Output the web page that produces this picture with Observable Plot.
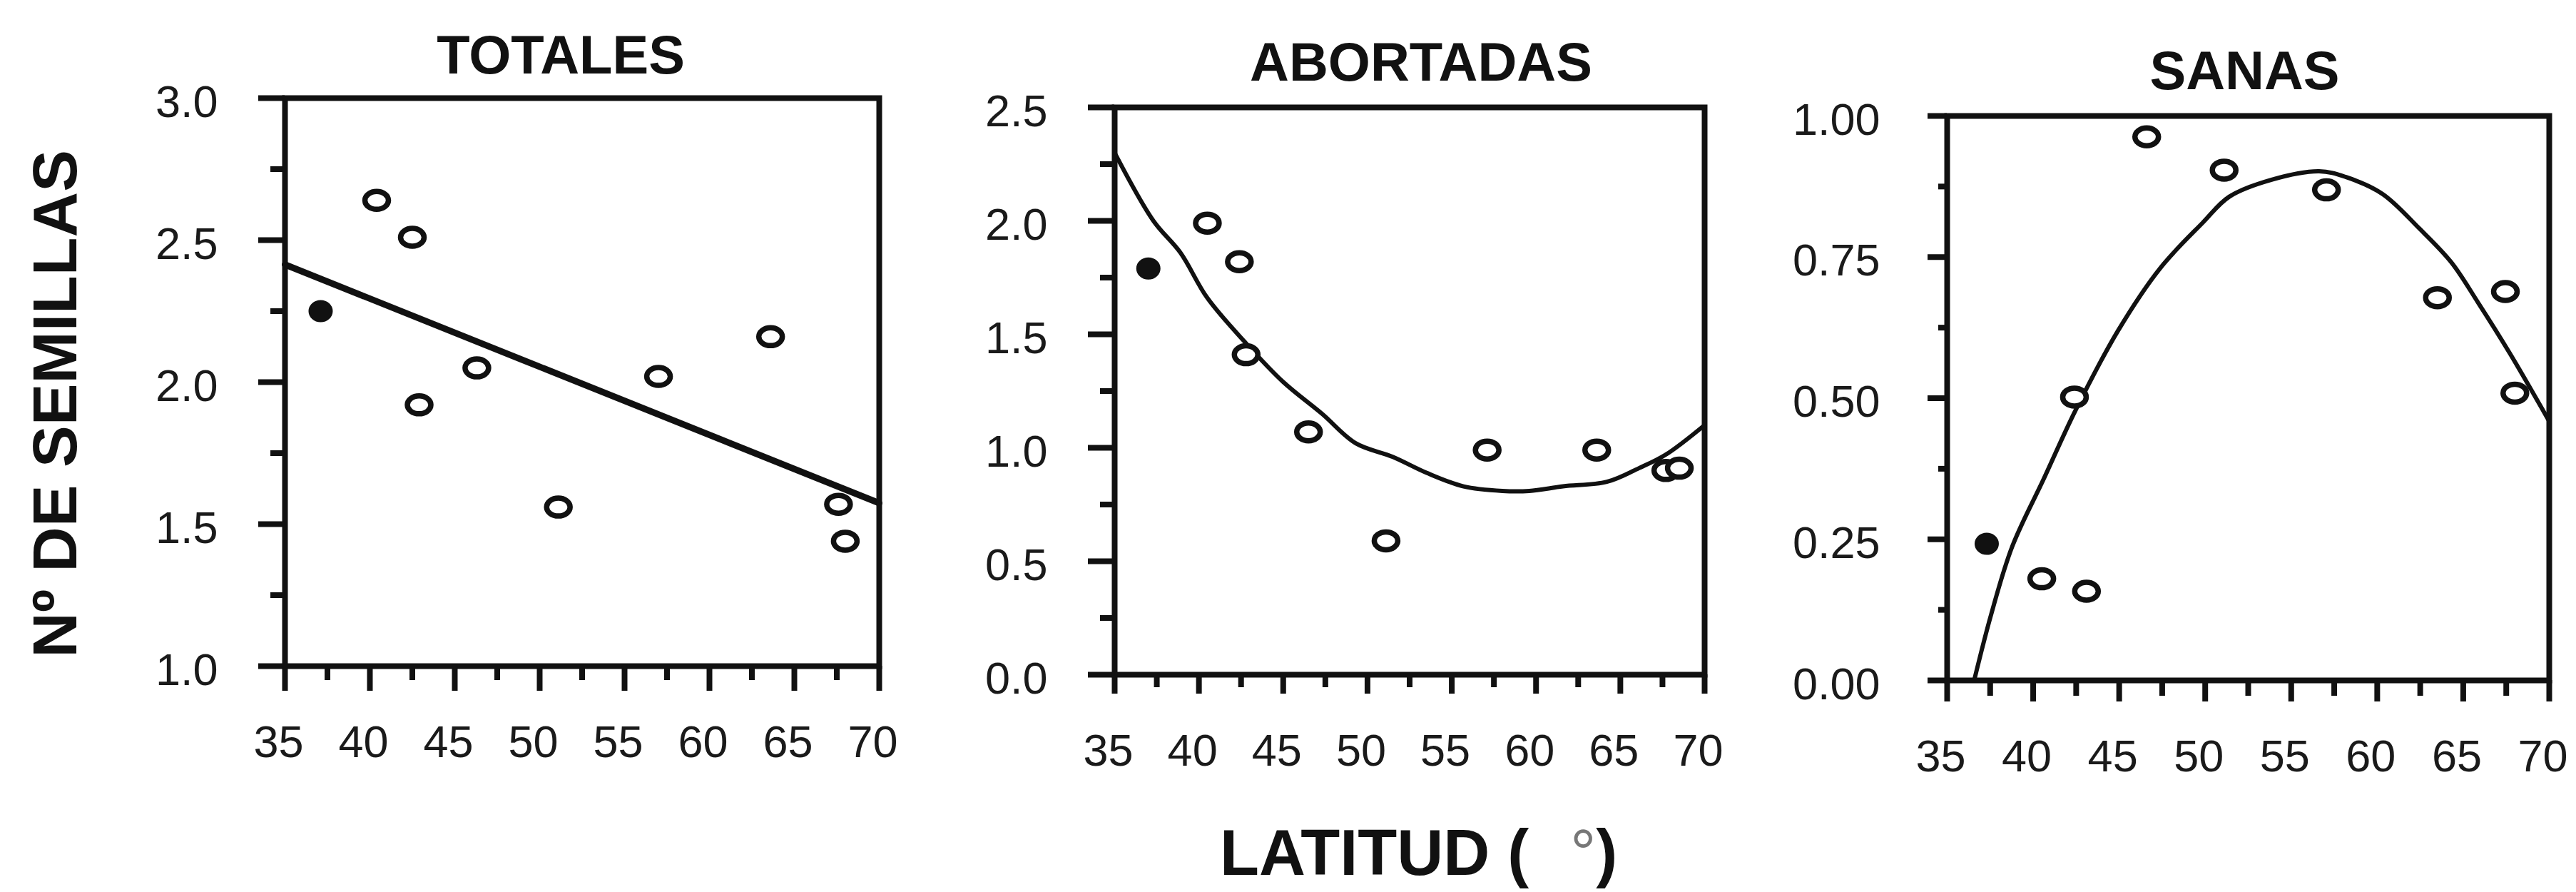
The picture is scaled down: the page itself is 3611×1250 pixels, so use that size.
<!DOCTYPE html>
<html>
<head>
<meta charset="utf-8">
<script src="https://cdn.jsdelivr.net/npm/d3@7"></script>
<script src="https://cdn.jsdelivr.net/npm/@observablehq/plot@0.6"></script>
<style>
  html, body { margin: 0; padding: 0; background: #fff; }
  #chart {
    position: relative; width: 3611px; height: 1250px; overflow: hidden; background: #fff;
    font-family: "Liberation Sans", Arial, Helvetica, sans-serif; color: #111;
  }
  #chart svg { position: absolute; top: 0; background: transparent; }
  .axis-title { position: absolute; font-weight: bold; white-space: nowrap; line-height: 1; }
  #ylabel { left: 77px; top: 566px; font-size: 88px; transform: translate(-50%, -50%) rotate(-90deg); }
  #xlabel { left: 1710px; top: 1150px; font-size: 90px; }
  #xlabel .deg { font-weight: normal; color: #777; margin-left: 58px; }
</style>
</head>
<body>
<div id="chart">
  <div class="axis-title" id="ylabel">Nº DE SEMILLAS</div>
  <div class="axis-title" id="xlabel">LATITUD (<span class="deg">°</span>)</div>
</div>
<script>
// Latitude (°) of each population; the first one (southernmost) is drawn solid.
const FILLED_SITE = 0;

// Seeds per fruit: total
const totalesLat = [37.1, 40.4, 42.5, 42.9, 46.3, 51.1, 57.0, 63.6, 67.6, 68.0];
const totalesVal = [2.25, 2.64, 2.51, 1.92, 2.05, 1.56, 2.02, 2.16, 1.57, 1.44];
const totalesFitLat = [35, 70];
const totalesFitVal = [2.414, 1.574];

// Seeds per fruit: aborted
const abortadasLat = [37.0, 40.5, 42.4, 42.8, 46.5, 51.1, 57.1, 63.6, 67.7, 68.5];
const abortadasVal = [1.79, 1.99, 1.82, 1.41, 1.07, 0.59, 0.99, 0.99, 0.90, 0.91];
const abortadasFitLat = [35, 37.3, 38.9, 40.5, 42.8, 45.0, 47.3, 49.3, 51.5, 53.5, 55.7, 58.0, 59.6, 61.6, 64.2, 66.1, 67.7, 70];
const abortadasFitVal = [2.30, 2.00, 1.86, 1.66, 1.46, 1.29, 1.15, 1.02, 0.96, 0.89, 0.83, 0.81, 0.81, 0.83, 0.85, 0.91, 0.97, 1.10];

// Seeds per fruit: healthy
const sanasLat = [37.3, 40.5, 42.4, 43.1, 46.6, 51.1, 57.05, 63.5, 67.45, 68.0];
const sanasVal = [0.242, 0.180, 0.502, 0.158, 0.963, 0.904, 0.869, 0.678, 0.689, 0.509];
const sanasFitLat = [36.57, 37.55, 38.78, 40.63, 42.47, 44.94, 47.4, 49.86, 51.4, 53.86, 56.62, 58.16, 60.3, 62.47, 64.3, 65.85, 67.7, 70];
const sanasFitVal = [0.0, 0.116, 0.237, 0.358, 0.479, 0.62, 0.731, 0.811, 0.857, 0.887, 0.902, 0.892, 0.862, 0.80, 0.741, 0.67, 0.58, 0.459];

// Axis ticks
const latMajor = [35, 40, 45, 50, 55, 60, 65, 70];
const latMinor = [37.5, 42.5, 47.5, 52.5, 57.5, 62.5, 67.5];
const totalesMajor = [1.0, 1.5, 2.0, 2.5, 3.0];
const totalesMinor = [1.25, 1.75, 2.25, 2.75];
const abortadasMajor = [0.0, 0.5, 1.0, 1.5, 2.0, 2.5];
const abortadasMinor = [0.25, 0.75, 1.25, 1.75, 2.25];
const sanasMajor = [0.0, 0.25, 0.5, 0.75, 1.0];
const sanasMinor = [0.125, 0.375, 0.625, 0.875];

const ink = "#111";

// Marker outline: an ellipse built from Bézier quarters.
function ellipse(rx, ry) {
  const k = 0.5523;
  return {
    draw(c) {
      c.moveTo(rx, 0);
      c.bezierCurveTo(rx, ry * k, rx * k, ry, 0, ry);
      c.bezierCurveTo(-rx * k, ry, -rx, ry * k, -rx, 0);
      c.bezierCurveTo(-rx, -ry * k, -rx * k, -ry, 0, -ry);
      c.bezierCurveTo(rx * k, -ry, rx, -ry * k, rx, 0);
      c.closePath();
    }
  };
}

function panel(cfg) {
  const idx = d3.range(cfg.lat.length);
  const open = idx.filter(i => i !== FILLED_SITE);
  const fmt = d3.format(cfg.fmt);
  const svg = Plot.plot({
    width: cfg.width,
    height: 1100,
    marginLeft: cfg.marginLeft,
    marginRight: cfg.marginRight,
    marginTop: cfg.marginTop,
    marginBottom: 1100 - cfg.frameBottom,
    style: { fontFamily: '"Liberation Sans", Arial, Helvetica, sans-serif', color: ink, background: "transparent" },
    x: { domain: [35, 70], axis: null, label: null },
    y: { domain: cfg.yDomain, axis: null, label: null },
    marks: [
      // fitted trend
      Plot.line({ length: cfg.fitLat.length }, {
        x: cfg.fitLat, y: cfg.fitVal, stroke: ink, strokeWidth: cfg.fitWidth,
        curve: cfg.fitCurve, strokeLinejoin: "round", strokeLinecap: "round"
      }),
      // populations
      Plot.dot(open, {
        x: i => cfg.lat[i], y: i => cfg.val[i],
        symbol: ellipse(16.5, 12.5), stroke: ink, strokeWidth: 7.5, fill: "white"
      }),
      Plot.dot([FILLED_SITE], {
        x: i => cfg.lat[i], y: i => cfg.val[i],
        symbol: ellipse(16, 14.5), fill: ink, stroke: ink, strokeWidth: 2
      }),
      Plot.frame({ stroke: ink, strokeWidth: 8 }),
      // y ticks and labels
      Plot.axisY(cfg.yMajor, { tickSize: cfg.yMajorSize, strokeWidth: 8, stroke: ink, fill: "none", label: null }),
      Plot.axisY(cfg.yMinor, { tickSize: cfg.yMinorSize, strokeWidth: 8, stroke: ink, fill: "none", label: null }),
      Plot.axisY(cfg.yMajor, {
        tickSize: 0, tickPadding: 94, dy: 6, fontSize: 63, fill: "#1a1a1a",
        tickFormat: fmt, label: null
      }),
      // x ticks and labels
      Plot.axisX(latMajor, { tickSize: cfg.xMajorSize, strokeWidth: 8, stroke: ink, fill: "none", label: null }),
      Plot.axisX(latMinor, { tickSize: cfg.xMinorSize, strokeWidth: 8, stroke: ink, fill: "none", label: null }),
      Plot.axisX(latMajor, {
        tickSize: 0, tickPadding: 83, dx: -9, fontSize: 63, fill: "#1a1a1a",
        tickFormat: d => String(d), label: null
      }),
      // panel title
      Plot.text([cfg.title], {
        text: d => d, frameAnchor: "top", lineAnchor: "bottom",
        dx: cfg.titleDx, dy: cfg.titleDy, fontSize: 76, fontWeight: "bold", fill: ink
      })
    ]
  });
  svg.style.left = cfg.left + "px";
  return svg;
}

const chart = document.getElementById("chart");

chart.appendChild(panel({
  title: "TOTALES",
  lat: totalesLat, val: totalesVal, fitLat: totalesFitLat, fitVal: totalesFitVal,
  fitWidth: 9, fitCurve: "linear",
  yDomain: [1, 3], yMajor: totalesMajor, yMinor: totalesMinor, fmt: ".1f",
  left: 0, width: 1290, marginLeft: 399, marginRight: 58, marginTop: 137, frameBottom: 933,
  yMajorSize: 37, yMinorSize: 20, xMajorSize: 35, xMinorSize: 20,
  titleDx: -30, titleDy: -35
}));

chart.appendChild(panel({
  title: "ABORTADAS",
  lat: abortadasLat, val: abortadasVal, fitLat: abortadasFitLat, fitVal: abortadasFitVal,
  fitWidth: 6, fitCurve: "catmull-rom",
  yDomain: [0, 2.5], yMajor: abortadasMajor, yMinor: abortadasMinor, fmt: ".1f",
  left: 1290, width: 1150, marginLeft: 272, marginRight: 51, marginTop: 150, frameBottom: 945,
  yMajorSize: 37, yMinorSize: 20, xMajorSize: 27, xMinorSize: 18,
  titleDx: 16, titleDy: -38
}));

chart.appendChild(panel({
  title: "SANAS",
  lat: sanasLat, val: sanasVal, fitLat: sanasFitLat, fitVal: sanasFitVal,
  fitWidth: 6, fitCurve: "catmull-rom",
  yDomain: [0, 1], yMajor: sanasMajor, yMinor: sanasMinor, fmt: ".2f",
  left: 2440, width: 1171, marginLeft: 289, marginRight: 38, marginTop: 162, frameBottom: 953,
  yMajorSize: 27, yMinorSize: 12, xMajorSize: 30, xMinorSize: 22,
  titleDx: -5, titleDy: -38
}));
</script>
</body>
</html>
